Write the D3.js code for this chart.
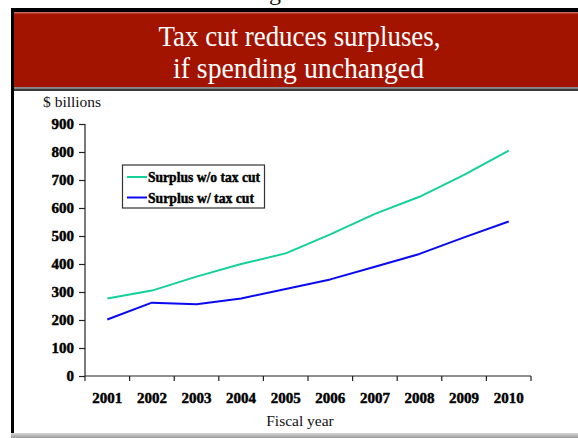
<!DOCTYPE html>
<html>
<head>
<meta charset="utf-8">
<script src="https://cdn.jsdelivr.net/npm/d3@7"></script>
<style>
  html, body { margin: 0; padding: 0; background: #fff; }
  svg { display: block; }
</style>
</head>
<body>
<svg id="chart" width="578" height="438"></svg>
<script>
// Fiscal years and projected surpluses ($ billions)
const years = ["2001", "2002", "2003", "2004", "2005", "2006", "2007", "2008", "2009", "2010"];
const surplusNoCut = [277, 305, 355, 400, 438, 506, 579, 640, 718, 805];
const surplusWithCut = [202, 262, 256, 277, 311, 345, 390, 436, 495, 552];
const yTicks = [0, 100, 200, 300, 400, 500, 600, 700, 800, 900];
const seriesNames = ["Surplus w/o tax cut", "Surplus w/ tax cut"];
const seriesColors = ["#14d09a", "#0a0af0"];
const legendTextWidths = [112, 106];

const svg = d3.select("#chart");
const serif = "'Liberation Serif', 'Times New Roman', serif";

// Slide frame and title banner
const defs = svg.append("defs");
const grad = defs.append("linearGradient").attr("id", "foot").attr("x1", 0).attr("y1", 0).attr("x2", 0).attr("y2", 1);
grad.append("stop").attr("offset", 0).attr("stop-color", "#d8d8d8");
grad.append("stop").attr("offset", 1).attr("stop-color", "#9a9a9a");

svg.append("text").attr("x", 275).attr("y", -0.5).attr("text-anchor", "middle")
  .attr("font-family", serif).attr("font-size", 24).attr("fill", "#111").text("g");

svg.append("rect").attr("x", 11).attr("y", 8).attr("width", 567).attr("height", 4).attr("fill", "#000");
svg.append("rect").attr("x", 14).attr("y", 12).attr("width", 564).attr("height", 75).attr("fill", "#a31400");
svg.append("rect").attr("x", 14).attr("y", 12).attr("width", 564).attr("height", 1.5).attr("fill", "#c8675c");
svg.append("rect").attr("x", 14).attr("y", 87).attr("width", 564).attr("height", 1.5).attr("fill", "#8a8a8a");
svg.append("rect").attr("x", 14).attr("y", 88.5).attr("width", 564).attr("height", 2.5).attr("fill", "#3a3a3a");
svg.append("rect").attr("x", 11).attr("y", 8).attr("width", 3).attr("height", 425).attr("fill", "#000");
svg.append("rect").attr("x", 11).attr("y", 433).attr("width", 567).attr("height", 5).attr("fill", "url(#foot)");

svg.append("text").attr("x", 299.5).attr("y", 46).attr("text-anchor", "middle")
  .attr("font-family", serif).attr("font-size", 30).attr("fill", "#fff")
  .attr("textLength", 282).attr("lengthAdjust", "spacingAndGlyphs")
  .text("Tax cut reduces surpluses,");
svg.append("text").attr("x", 298.5).attr("y", 78).attr("text-anchor", "middle")
  .attr("font-family", serif).attr("font-size", 30).attr("fill", "#fff")
  .attr("textLength", 251).attr("lengthAdjust", "spacingAndGlyphs")
  .text("if spending unchanged");

// Plot area
const plot = { left: 85, right: 531, top: 124, bottom: 376 };

const x = d3.scaleBand().domain(years).range([plot.left, plot.right]).padding(0);
const y = d3.scaleLinear().domain([0, 900]).range([plot.bottom, plot.top]);

// Heavy label style shared by tick labels and legend entries
const heavy = sel => sel.attr("font-family", serif).attr("font-weight", "bold")
  .attr("fill", "#000").attr("stroke", "#000").attr("stroke-width", 0.45);

// Y axis
const yAxis = svg.append("g").attr("transform", `translate(${plot.left},0)`)
  .call(d3.axisLeft(y).tickValues(yTicks).tickSize(6).tickPadding(5).tickFormat(d3.format("d")));
yAxis.select(".domain").attr("stroke", "#222").attr("stroke-width", 1.2).attr("d", `M0,${plot.top}V${plot.bottom}`);
yAxis.selectAll(".tick line").attr("stroke", "#222").attr("stroke-width", 1.2);
yAxis.selectAll(".tick text").call(heavy).attr("font-size", 15);

// X axis: ticks at category boundaries, labels centred in each band
const xAxisG = svg.append("g").attr("transform", `translate(0,${plot.bottom})`);
xAxisG.append("line").attr("x1", plot.left).attr("x2", plot.right).attr("y1", 0).attr("y2", 0)
  .attr("stroke", "#222").attr("stroke-width", 1.2);
const boundaries = years.map(d => x(d)).concat([x(years[years.length - 1]) + x.bandwidth()]);
xAxisG.selectAll(".bt").data(boundaries).join("line").attr("class", "bt")
  .attr("x1", d => d).attr("x2", d => d).attr("y1", 0).attr("y2", 5)
  .attr("stroke", "#222").attr("stroke-width", 1.2);
xAxisG.selectAll(".lbl").data(years).join("text").attr("class", "lbl")
  .attr("x", d => x(d) + x.bandwidth() / 2).attr("y", 27)
  .attr("text-anchor", "middle").call(heavy).attr("font-size", 15).text(d => d);

// Axis titles
svg.append("text").attr("x", 43).attr("y", 107).attr("font-family", serif)
  .attr("font-size", 15.5).attr("fill", "#111").text("$ billions");
svg.append("text").attr("x", 300).attr("y", 426).attr("text-anchor", "middle").attr("font-family", serif)
  .attr("font-size", 15.5).attr("fill", "#111").text("Fiscal year");

// Series lines
const line = d3.line().x((d, i) => x(years[i]) + x.bandwidth() / 2).y(d => y(d));
[surplusNoCut, surplusWithCut].forEach((vals, i) => {
  svg.append("path").datum(vals).attr("d", line).attr("fill", "none")
    .attr("stroke", seriesColors[i]).attr("stroke-width", 2).attr("stroke-linejoin", "round");
});

// Legend
const legend = svg.append("g");
legend.append("rect").attr("x", 122.5).attr("y", 165).attr("width", 142).attr("height", 43)
  .attr("fill", "#fff").attr("stroke", "#333").attr("stroke-width", 1.2);
seriesNames.forEach((name, i) => {
  const ly = 177 + i * 20.5;
  legend.append("line").attr("x1", 127).attr("x2", 147).attr("y1", ly).attr("y2", ly)
    .attr("stroke", seriesColors[i]).attr("stroke-width", 2);
  legend.append("text").attr("x", 148).attr("y", ly + 5).call(heavy)
    .attr("font-size", 14.5).attr("textLength", legendTextWidths[i])
    .attr("lengthAdjust", "spacingAndGlyphs").text(name);
});
</script>
</body>
</html>
